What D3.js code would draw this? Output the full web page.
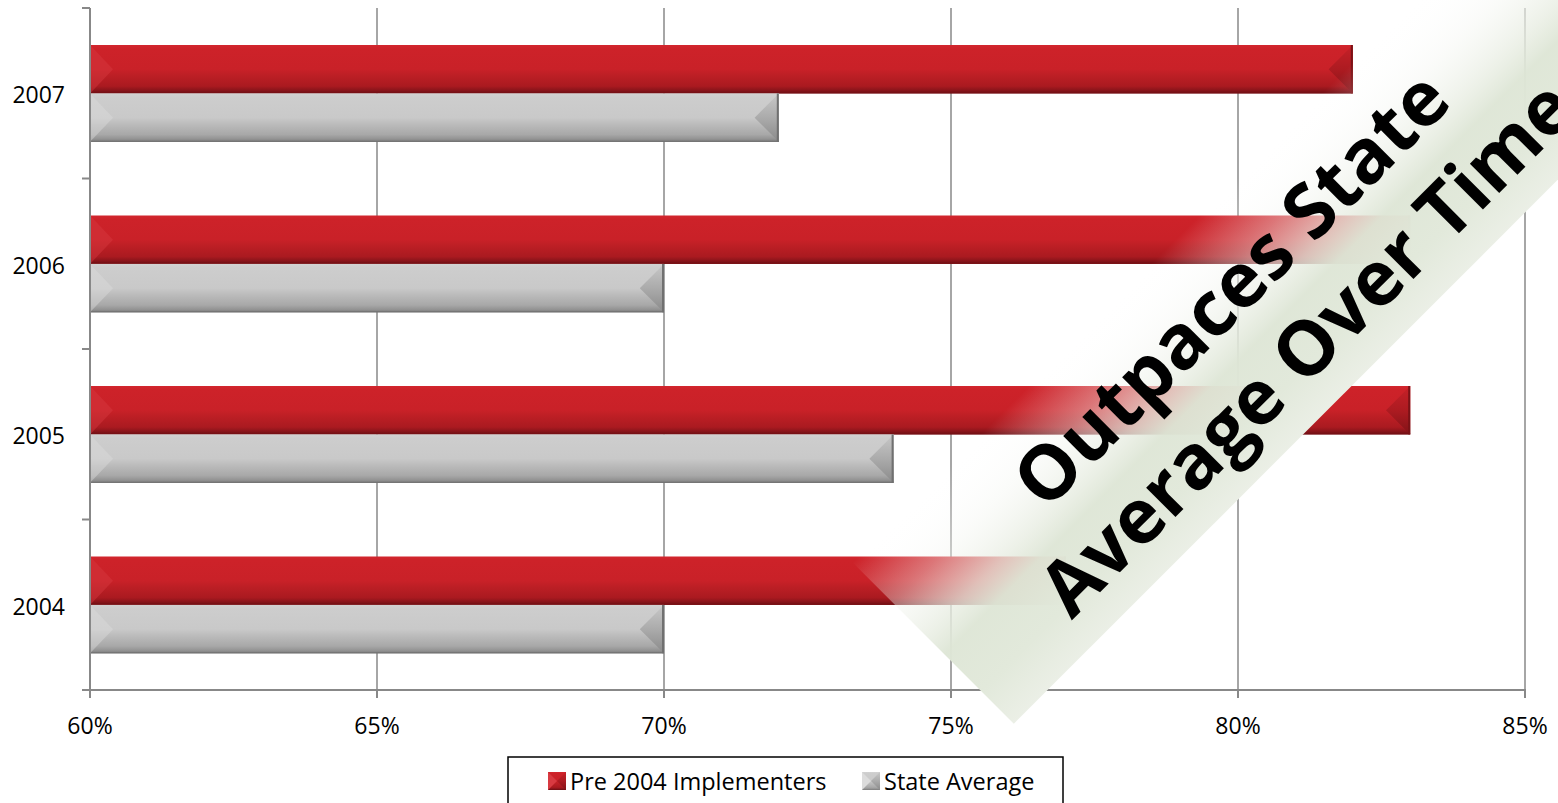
<!DOCTYPE html>
<html>
<head>
<meta charset="utf-8">
<script src="https://cdn.jsdelivr.net/npm/d3@7"></script>
<style>
  body { margin: 0; background: #fff; }
  svg { display: block; }
</style>
</head>
<body>
<script>
// chart data
var years = ["2007", "2006", "2005", "2004"];
var seriesNames = ["Pre 2004 Implementers", "State Average"];
var pre2004 = [0.82, 0.83, 0.83, 0.77];
var stateAvg = [0.72, 0.70, 0.74, 0.70];
var xTicks = [0.60, 0.65, 0.70, 0.75, 0.80, 0.85];
var bannerLines = ["Outpaces State", "Average Over Time"];

var w = 1558;
var h = 803;
var font = "'Open Sans', sans-serif";

var svg = d3.select("body")
    .append("svg")
    .attr("width", w)
    .attr("height", h);

var defs = svg.append("defs");

// bar gradients
function vGrad(id, stops) {
  var g = defs.append("linearGradient").attr("id", id)
      .attr("x1", 0).attr("y1", 0).attr("x2", 0).attr("y2", 1);
  stops.forEach(function(s) {
    g.append("stop").attr("offset", s[0]).attr("stop-color", s[1]);
  });
}
vGrad("redBody", [[0, "#d2262e"], [0.08, "#cd2229"], [0.5, "#c92128"], [0.62, "#bd1f25"], [0.85, "#aa1a20"], [0.94, "#88141a"], [1, "#6a0f13"]]);
vGrad("grayBody", [[0, "#d2d2d2"], [0.08, "#cdcdcd"], [0.5, "#c9c9c9"], [0.62, "#bdbdbd"], [0.85, "#a8a8a8"], [0.94, "#939393"], [1, "#7a7a7a"]]);
vGrad("redRight", [[0, "#c62128"], [0.5, "#ad1b21"], [1, "#821318"]]);
vGrad("grayRight", [[0, "#c8c8c8"], [0.5, "#ababab"], [1, "#8a8a8a"]]);

var colors = {
  "Pre 2004 Implementers": { body: "url(#redBody)", left: "#d83a41", right: "url(#redRight)", edge: "#7a1216" },
  "State Average": { body: "url(#grayBody)", left: "#dcdcdc", right: "url(#grayRight)", edge: "#707070" }
};

// scales
var x = d3.scaleLinear().domain([0.60, 0.85]).range([90, 1525]);
var y = d3.scaleBand().domain(years).range([8, 690]).padding(0);
var bw = y.bandwidth();
var ySub = d3.scaleBand().domain(seriesNames).range([bw * 0.217, bw * 0.785]).padding(0);

var axisColor = "#888888";

// vertical gridlines
svg.append("g")
  .selectAll("line")
  .data(xTicks.slice(1))
  .enter()
  .append("line")
  .attr("x1", function(d) { return x(d); })
  .attr("x2", function(d) { return x(d); })
  .attr("y1", 8)
  .attr("y2", 690)
  .attr("stroke", axisColor)
  .attr("stroke-width", 1.5);

// bars
var rows = [];
years.forEach(function(yr, i) {
  rows.push({ year: yr, series: seriesNames[0], value: pre2004[i] });
  rows.push({ year: yr, series: seriesNames[1], value: stateAvg[i] });
});

var bars = svg.append("g")
  .selectAll("g")
  .data(rows)
  .enter()
  .append("g");

bars.each(function(d) {
  var g = d3.select(this);
  var x0 = x(0.60), x1 = x(d.value);
  var y0 = y(d.year) + ySub(d.series);
  var bh = ySub.bandwidth();
  var y1 = y0 + bh;
  var b = bh / 2;
  var c = colors[d.series];

  g.append("rect")
    .attr("x", x0).attr("y", y0)
    .attr("width", x1 - x0).attr("height", bh)
    .attr("fill", c.body);

  // left bevel
  g.append("polygon")
    .attr("points", [[x0, y0], [x0 + b * 0.95, y0 + b], [x0, y1]].join(" "))
    .attr("fill", c.left)
    .attr("fill-opacity", 0.45);

  // right bevel
  g.append("polygon")
    .attr("points", [[x1, y0], [x1 - b, y0 + b], [x1, y1]].join(" "))
    .attr("fill", c.right);

  // edges
  g.append("line")
    .attr("x1", x1 - 1).attr("x2", x1 - 1)
    .attr("y1", y0).attr("y2", y1)
    .attr("stroke", c.edge).attr("stroke-width", 2);
  g.append("line")
    .attr("x1", x0).attr("x2", x1)
    .attr("y1", y1 - 0.5).attr("y2", y1 - 0.5)
    .attr("stroke", c.edge).attr("stroke-width", 1);
});

// axes
var yTickPos = years.map(function(d) { return y(d); }).concat([690]);

svg.append("line")
  .attr("x1", 90).attr("x2", 90).attr("y1", 8).attr("y2", 690)
  .attr("stroke", axisColor).attr("stroke-width", 2);
svg.append("g")
  .selectAll("line")
  .data(yTickPos)
  .enter()
  .append("line")
  .attr("x1", 82).attr("x2", 90)
  .attr("y1", function(d) { return d; })
  .attr("y2", function(d) { return d; })
  .attr("stroke", axisColor).attr("stroke-width", 2);

svg.append("line")
  .attr("x1", 82).attr("x2", 1526).attr("y1", 690).attr("y2", 690)
  .attr("stroke", axisColor).attr("stroke-width", 2);
svg.append("g")
  .selectAll("line")
  .data(xTicks)
  .enter()
  .append("line")
  .attr("x1", function(d) { return x(d); })
  .attr("x2", function(d) { return x(d); })
  .attr("y1", 690).attr("y2", 698)
  .attr("stroke", axisColor).attr("stroke-width", 2);

// tick labels
svg.append("g")
  .selectAll("text")
  .data(years)
  .enter()
  .append("text")
  .text(function(d) { return d; })
  .attr("x", 65)
  .attr("y", function(d) { return y(d) + bw / 2 + 10; })
  .attr("text-anchor", "end")
  .attr("font-family", font)
  .attr("font-size", "23px")
  .attr("fill", "#000");

svg.append("g")
  .selectAll("text")
  .data(xTicks)
  .enter()
  .append("text")
  .text(function(d) { return Math.round(d * 100) + "%"; })
  .attr("x", function(d) { return x(d); })
  .attr("y", 734)
  .attr("text-anchor", "middle")
  .attr("font-family", font)
  .attr("font-size", "23px")
  .attr("fill", "#000");

// banner
var bg = defs.append("linearGradient").attr("id", "bannerFill")
    .attr("gradientUnits", "userSpaceOnUse")
    .attr("x1", 0).attr("y1", -101).attr("x2", 0).attr("y2", 127);
[[0, "#ffffff", 0], [0.25, "#f4f6f1", 0.4], [0.45, "#e8ede2", 0.78], [0.57, "#dee6d6", 0.97], [0.8, "#e2e9db", 1], [1, "#ebefe6", 1]]
  .forEach(function(s) {
    bg.append("stop").attr("offset", s[0]).attr("stop-color", s[1]).attr("stop-opacity", s[2]);
  });

var banner = svg.append("g")
  .attr("transform", "translate(1250,308) rotate(-45)");

banner.append("rect")
  .attr("x", -461).attr("y", -101)
  .attr("width", 1200).attr("height", 228)
  .attr("fill", "url(#bannerFill)");

banner.selectAll("text")
  .data(bannerLines)
  .enter()
  .append("text")
  .text(function(d) { return d; })
  .attr("x", function(d, i) { return i * 12; })
  .attr("y", function(d, i) { return i * 95; })
  .attr("text-anchor", "middle")
  .attr("font-family", font)
  .attr("font-weight", "bold")
  .attr("font-size", "76px")
  .attr("fill", "#000");

// legend
var legend = svg.append("g");
legend.append("rect")
  .attr("x", 508).attr("y", 757)
  .attr("width", 555).attr("height", 60)
  .attr("fill", "#fff")
  .attr("stroke", "#000")
  .attr("stroke-width", 1.5);

var legX = [548, 862];
seriesNames.forEach(function(name, i) {
  var c = colors[name];
  var lx = legX[i], ly = 772, s = 18;
  legend.append("rect")
    .attr("x", lx).attr("y", ly).attr("width", s).attr("height", s)
    .attr("fill", c.body);
  legend.append("polygon")
    .attr("points", [[lx, ly], [lx + s / 2, ly + s / 2], [lx, ly + s]].join(" "))
    .attr("fill", c.left);
  legend.append("polygon")
    .attr("points", [[lx + s, ly], [lx + s / 2, ly + s / 2], [lx + s, ly + s]].join(" "))
    .attr("fill", c.right);
  legend.append("text")
    .text(name)
    .attr("x", lx + 22)
    .attr("y", 790)
    .attr("font-family", font)
    .attr("font-size", "23.5px")
    .attr("fill", "#000");
});
</script>
</body>
</html>
